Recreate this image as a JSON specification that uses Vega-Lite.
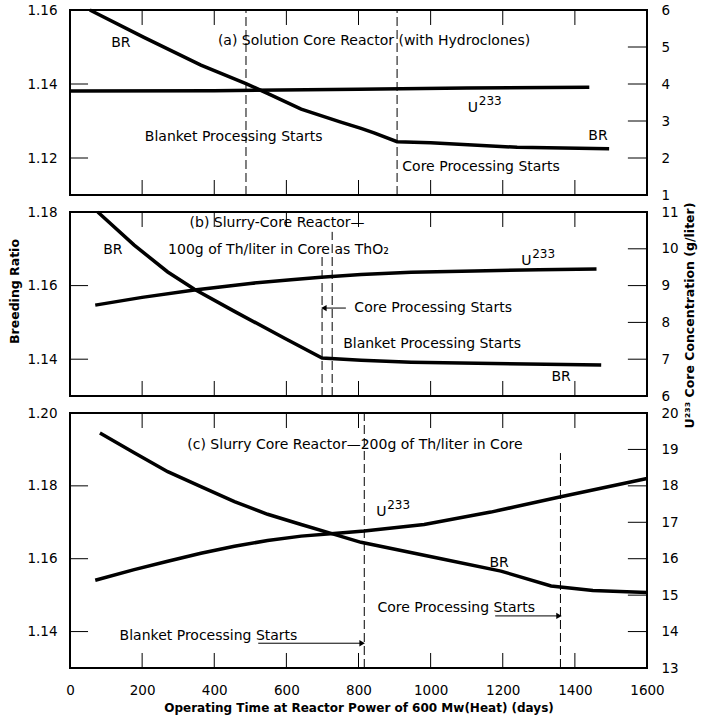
{
  "$schema": "https://vega.github.io/schema/vega-lite/v6.json",
  "background": "white",
  "padding": {"left": 7, "top": 2, "right": 5, "bottom": 5},
  "bounds": "flush",
  "spacing": 17,
  "datasets": {
    "curves": [
      {"panel": "a", "series": "BR", "day": 55, "value": 1.16},
      {"panel": "a", "series": "BR", "day": 205, "value": 1.1526},
      {"panel": "a", "series": "BR", "day": 363, "value": 1.1451},
      {"panel": "a", "series": "BR", "day": 488, "value": 1.1401},
      {"panel": "a", "series": "BR", "day": 549, "value": 1.1374},
      {"panel": "a", "series": "BR", "day": 641, "value": 1.1332},
      {"panel": "a", "series": "BR", "day": 751, "value": 1.1297},
      {"panel": "a", "series": "BR", "day": 807, "value": 1.128},
      {"panel": "a", "series": "BR", "day": 843, "value": 1.1268},
      {"panel": "a", "series": "BR", "day": 907, "value": 1.1244},
      {"panel": "a", "series": "BR", "day": 1000, "value": 1.1241},
      {"panel": "a", "series": "BR", "day": 1240, "value": 1.1229},
      {"panel": "a", "series": "BR", "day": 1495, "value": 1.1225},
      {"panel": "a", "series": "U233", "day": 0, "value": 3.81},
      {"panel": "a", "series": "U233", "day": 400, "value": 3.82},
      {"panel": "a", "series": "U233", "day": 800, "value": 3.86},
      {"panel": "a", "series": "U233", "day": 1100, "value": 3.89},
      {"panel": "a", "series": "U233", "day": 1440, "value": 3.91},
      {"panel": "b", "series": "BR", "day": 77, "value": 1.18},
      {"panel": "b", "series": "BR", "day": 178, "value": 1.171},
      {"panel": "b", "series": "BR", "day": 271, "value": 1.1637},
      {"panel": "b", "series": "BR", "day": 345, "value": 1.159},
      {"panel": "b", "series": "BR", "day": 456, "value": 1.153},
      {"panel": "b", "series": "BR", "day": 595, "value": 1.1457},
      {"panel": "b", "series": "BR", "day": 699, "value": 1.1403},
      {"panel": "b", "series": "BR", "day": 807, "value": 1.1397},
      {"panel": "b", "series": "BR", "day": 946, "value": 1.1392},
      {"panel": "b", "series": "BR", "day": 1473, "value": 1.1384},
      {"panel": "b", "series": "U233", "day": 70, "value": 8.47},
      {"panel": "b", "series": "U233", "day": 200, "value": 8.68},
      {"panel": "b", "series": "U233", "day": 345, "value": 8.88},
      {"panel": "b", "series": "U233", "day": 500, "value": 9.06},
      {"panel": "b", "series": "U233", "day": 613, "value": 9.16},
      {"panel": "b", "series": "U233", "day": 696, "value": 9.23},
      {"panel": "b", "series": "U233", "day": 807, "value": 9.3},
      {"panel": "b", "series": "U233", "day": 946, "value": 9.36},
      {"panel": "b", "series": "U233", "day": 1121, "value": 9.4},
      {"panel": "b", "series": "U233", "day": 1300, "value": 9.43},
      {"panel": "b", "series": "U233", "day": 1460, "value": 9.45},
      {"panel": "c", "series": "BR", "day": 83, "value": 1.1945},
      {"panel": "c", "series": "BR", "day": 178, "value": 1.1891},
      {"panel": "c", "series": "BR", "day": 271, "value": 1.1839},
      {"panel": "c", "series": "BR", "day": 363, "value": 1.1798},
      {"panel": "c", "series": "BR", "day": 456, "value": 1.1757},
      {"panel": "c", "series": "BR", "day": 548, "value": 1.1722},
      {"panel": "c", "series": "BR", "day": 641, "value": 1.1694},
      {"panel": "c", "series": "BR", "day": 733, "value": 1.1667},
      {"panel": "c", "series": "BR", "day": 807, "value": 1.1645},
      {"panel": "c", "series": "BR", "day": 1029, "value": 1.16},
      {"panel": "c", "series": "BR", "day": 1195, "value": 1.1566},
      {"panel": "c", "series": "BR", "day": 1334, "value": 1.1525},
      {"panel": "c", "series": "BR", "day": 1450, "value": 1.1513},
      {"panel": "c", "series": "BR", "day": 1600, "value": 1.1507},
      {"panel": "c", "series": "U233", "day": 70, "value": 15.41},
      {"panel": "c", "series": "U233", "day": 178, "value": 15.7},
      {"panel": "c", "series": "U233", "day": 271, "value": 15.93},
      {"panel": "c", "series": "U233", "day": 363, "value": 16.15},
      {"panel": "c", "series": "U233", "day": 456, "value": 16.34},
      {"panel": "c", "series": "U233", "day": 548, "value": 16.5},
      {"panel": "c", "series": "U233", "day": 641, "value": 16.62},
      {"panel": "c", "series": "U233", "day": 740, "value": 16.7},
      {"panel": "c", "series": "U233", "day": 816, "value": 16.76},
      {"panel": "c", "series": "U233", "day": 982, "value": 16.94},
      {"panel": "c", "series": "U233", "day": 1167, "value": 17.28},
      {"panel": "c", "series": "U233", "day": 1361, "value": 17.7},
      {"panel": "c", "series": "U233", "day": 1600, "value": 18.2}
    ],
    "markers": [
      {"panel": "a", "day": 488, "value": 1.11, "value2": 1.16},
      {"panel": "a", "day": 907, "value": 1.11, "value2": 1.16},
      {"panel": "b", "day": 699, "value": 1.13, "value2": 1.1678},
      {"panel": "b", "day": 727, "value": 1.13, "value2": 1.1746},
      {"panel": "c", "day": 816, "value": 1.13, "value2": 1.2},
      {"panel": "c", "day": 1360, "value": 1.13, "value2": 1.189}
    ],
    "notes": [
      {"panel": "a", "day": 141, "value": 1.1512, "label": "BR"},
      {"panel": "a", "day": 843, "value": 1.1517, "label": "(a) Solution Core Reactor (with Hydroclones)"},
      {"panel": "a", "day": 454, "value": 1.1258, "label": "Blanket Processing Starts"},
      {"panel": "a", "day": 1140, "value": 1.1175, "label": "Core Processing Starts"},
      {"panel": "a", "day": 1464, "value": 1.126, "label": "BR"},
      {"panel": "b", "day": 574, "value": 1.177, "label": "(b) Slurry-Core Reactor—"},
      {"panel": "b", "day": 578, "value": 1.1697, "label": "100g of Th/liter in Core as ThO₂"},
      {"panel": "b", "day": 119, "value": 1.1697, "label": "BR"},
      {"panel": "b", "day": 1007, "value": 1.1539, "label": "Core Processing Starts"},
      {"panel": "b", "day": 1004, "value": 1.1441, "label": "Blanket Processing Starts"},
      {"panel": "b", "day": 1362, "value": 1.1351, "label": "BR"},
      {"panel": "c", "day": 790, "value": 1.1913, "label": "(c) Slurry Core Reactor—200g of Th/liter in Core"},
      {"panel": "c", "day": 1190, "value": 1.1588, "label": "BR"},
      {"panel": "c", "day": 1071, "value": 1.1466, "label": "Core Processing Starts"},
      {"panel": "c", "day": 384, "value": 1.1388, "label": "Blanket Processing Starts"}
    ],
    "isotope": [
      {"panel": "a", "day": 1103, "value": 1.1324},
      {"panel": "b", "day": 1251, "value": 1.1656},
      {"panel": "c", "day": 849, "value": 1.1716}
    ],
    "arrows": [
      {"panel": "b", "day": 765, "tip": 704, "value": 1.1539, "dir": "left"},
      {"panel": "c", "day": 522, "tip": 810, "value": 1.1368, "dir": "right"},
      {"panel": "c", "day": 1179, "tip": 1356, "value": 1.1443, "dir": "right"}
    ],
    "xticks": [
      {"day": 200}, {"day": 400}, {"day": 600}, {"day": 800}, {"day": 1000}, {"day": 1200}, {"day": 1400}
    ],
    "yticks": [
      {"panel": "a", "side": "left", "value": 1.12},
      {"panel": "a", "side": "left", "value": 1.14},
      {"panel": "a", "side": "right", "value": 2},
      {"panel": "a", "side": "right", "value": 3},
      {"panel": "a", "side": "right", "value": 4},
      {"panel": "a", "side": "right", "value": 5},
      {"panel": "b", "side": "left", "value": 1.14},
      {"panel": "b", "side": "left", "value": 1.16},
      {"panel": "b", "side": "right", "value": 7},
      {"panel": "b", "side": "right", "value": 8},
      {"panel": "b", "side": "right", "value": 9},
      {"panel": "b", "side": "right", "value": 10},
      {"panel": "c", "side": "left", "value": 1.14},
      {"panel": "c", "side": "left", "value": 1.16},
      {"panel": "c", "side": "left", "value": 1.18},
      {"panel": "c", "side": "right", "value": 14},
      {"panel": "c", "side": "right", "value": 15},
      {"panel": "c", "side": "right", "value": 16},
      {"panel": "c", "side": "right", "value": 17},
      {"panel": "c", "side": "right", "value": 18},
      {"panel": "c", "side": "right", "value": 19}
    ]
  },
  "vconcat": [
    {
      "width": 577,
      "height": 185,
      "resolve": {"scale": {"y": "independent"}},
      "layer": [
        {
          "data": {"name": "curves"},
          "transform": [{"filter": "datum.panel === 'a' && datum.series === 'BR'"}],
          "mark": {"type": "line", "color": "black", "strokeWidth": 3.5},
          "encoding": {
            "x": {"field": "day", "type": "quantitative", "scale": {"domain": [0, 1600], "nice": false, "zero": false},
                  "axis": {"orient": "bottom", "values": [200, 400, 600, 800, 1000, 1200, 1400], "labels": false, "title": null}},
            "y": {"field": "value", "type": "quantitative", "scale": {"domain": [1.11, 1.16], "nice": false, "zero": false},
                  "axis": {"orient": "left", "values": [1.12, 1.14, 1.16], "format": ".2f", "labelPadding": 13, "title": null}}
          }
        },
        {
          "data": {"name": "curves"},
          "transform": [{"filter": "datum.panel === 'a' && datum.series === 'U233'"}],
          "mark": {"type": "line", "color": "black", "strokeWidth": 3.5},
          "encoding": {
            "x": {"field": "day", "type": "quantitative", "scale": {"domain": [0, 1600], "nice": false, "zero": false}},
            "y": {"field": "value", "type": "quantitative", "scale": {"domain": [1, 6], "nice": false, "zero": false},
                  "axis": {"orient": "right", "values": [1, 2, 3, 4, 5, 6], "format": "d", "labelPadding": 14, "title": null}}
          }
        },
        {
          "data": {"name": "xticks"},
          "mark": {"type": "rule", "color": "black", "strokeWidth": 1},
          "encoding": {
            "x": {"field": "day", "type": "quantitative", "scale": {"domain": [0, 1600], "nice": false, "zero": false}},
            "y": {"datum": 1.11, "type": "quantitative", "scale": {"domain": [1.11, 1.16], "nice": false, "zero": false}, "axis": null},
            "y2": {"datum": 1.11405}
          }
        },
        {
          "data": {"name": "xticks"},
          "mark": {"type": "rule", "color": "black", "strokeWidth": 1},
          "encoding": {
            "x": {"field": "day", "type": "quantitative", "scale": {"domain": [0, 1600], "nice": false, "zero": false}},
            "y": {"datum": 1.16, "type": "quantitative", "scale": {"domain": [1.11, 1.16], "nice": false, "zero": false}, "axis": null},
            "y2": {"datum": 1.15595}
          }
        },
        {
          "data": {"name": "yticks"},
          "transform": [{"filter": "datum.panel === 'a' && datum.side === 'left'"}],
          "mark": {"type": "rule", "color": "black", "strokeWidth": 1},
          "encoding": {
            "x": {"datum": 0, "type": "quantitative", "scale": {"domain": [0, 1600], "nice": false, "zero": false}},
            "x2": {"datum": 50},
            "y": {"field": "value", "type": "quantitative", "scale": {"domain": [1.11, 1.16], "nice": false, "zero": false}, "axis": null}
          }
        },
        {
          "data": {"name": "yticks"},
          "transform": [{"filter": "datum.panel === 'a' && datum.side === 'right'"}],
          "mark": {"type": "rule", "color": "black", "strokeWidth": 1},
          "encoding": {
            "x": {"datum": 1547, "type": "quantitative", "scale": {"domain": [0, 1600], "nice": false, "zero": false}},
            "x2": {"datum": 1600},
            "y": {"field": "value", "type": "quantitative", "scale": {"domain": [1, 6], "nice": false, "zero": false}, "axis": null}
          }
        },
        {
          "data": {"name": "markers"},
          "transform": [{"filter": "datum.panel === 'a'"}],
          "mark": {"type": "rule", "color": "black", "strokeWidth": 1, "strokeDash": [9, 4]},
          "encoding": {
            "x": {"field": "day", "type": "quantitative", "scale": {"domain": [0, 1600], "nice": false, "zero": false}},
            "y": {"field": "value", "type": "quantitative", "scale": {"domain": [1.11, 1.16], "nice": false, "zero": false}, "axis": null},
            "y2": {"field": "value2"}
          }
        },
        {
          "data": {"name": "notes"},
          "transform": [{"filter": "datum.panel === 'a'"}],
          "mark": {"type": "text", "align": "center", "baseline": "middle"},
          "encoding": {
            "x": {"field": "day", "type": "quantitative", "scale": {"domain": [0, 1600], "nice": false, "zero": false}},
            "y": {"field": "value", "type": "quantitative", "scale": {"domain": [1.11, 1.16], "nice": false, "zero": false}, "axis": null},
            "text": {"field": "label"}
          }
        },
        {
          "data": {"name": "isotope"},
          "transform": [{"filter": "datum.panel === 'a'"}],
          "mark": {"type": "text", "text": "U", "align": "left", "baseline": "alphabetic"},
          "encoding": {
            "x": {"field": "day", "type": "quantitative", "scale": {"domain": [0, 1600], "nice": false, "zero": false}},
            "y": {"field": "value", "type": "quantitative", "scale": {"domain": [1.11, 1.16], "nice": false, "zero": false}, "axis": null}
          }
        },
        {
          "data": {"name": "isotope"},
          "transform": [{"filter": "datum.panel === 'a'"}],
          "mark": {"type": "text", "text": "233", "align": "left", "baseline": "alphabetic", "fontSize": 12, "dx": 11, "dy": -7},
          "encoding": {
            "x": {"field": "day", "type": "quantitative", "scale": {"domain": [0, 1600], "nice": false, "zero": false}},
            "y": {"field": "value", "type": "quantitative", "scale": {"domain": [1.11, 1.16], "nice": false, "zero": false}, "axis": null}
          }
        }
      ]
    },
    {
      "width": 577,
      "height": 184,
      "resolve": {"scale": {"y": "independent"}},
      "layer": [
        {
          "data": {"name": "curves"},
          "transform": [{"filter": "datum.panel === 'b' && datum.series === 'BR'"}],
          "mark": {"type": "line", "color": "black", "strokeWidth": 3.5},
          "encoding": {
            "x": {"field": "day", "type": "quantitative", "scale": {"domain": [0, 1600], "nice": false, "zero": false},
                  "axis": {"orient": "bottom", "values": [200, 400, 600, 800, 1000, 1200, 1400], "labels": false, "title": null}},
            "y": {"field": "value", "type": "quantitative", "scale": {"domain": [1.13, 1.18], "nice": false, "zero": false},
                  "axis": {"orient": "left", "values": [1.14, 1.16, 1.18], "format": ".2f", "labelPadding": 13,
                           "title": "Breeding Ratio", "titleY": 79, "titlePadding": 5}}
          }
        },
        {
          "data": {"name": "curves"},
          "transform": [{"filter": "datum.panel === 'b' && datum.series === 'U233'"}],
          "mark": {"type": "line", "color": "black", "strokeWidth": 3.5},
          "encoding": {
            "x": {"field": "day", "type": "quantitative", "scale": {"domain": [0, 1600], "nice": false, "zero": false}},
            "y": {"field": "value", "type": "quantitative", "scale": {"domain": [6, 11], "nice": false, "zero": false},
                  "axis": {"orient": "right", "values": [6, 7, 8, 9, 10, 11], "format": "d", "labelPadding": 14,
                           "title": "U²³³ Core Concentration (g/liter)", "titleAngle": 270, "titleBaseline": "top", "titleY": 103, "titlePadding": 5}}
          }
        },
        {
          "data": {"name": "xticks"},
          "mark": {"type": "rule", "color": "black", "strokeWidth": 1},
          "encoding": {
            "x": {"field": "day", "type": "quantitative", "scale": {"domain": [0, 1600], "nice": false, "zero": false}},
            "y": {"datum": 1.13, "type": "quantitative", "scale": {"domain": [1.13, 1.18], "nice": false, "zero": false}, "axis": null},
            "y2": {"datum": 1.13408}
          }
        },
        {
          "data": {"name": "xticks"},
          "mark": {"type": "rule", "color": "black", "strokeWidth": 1},
          "encoding": {
            "x": {"field": "day", "type": "quantitative", "scale": {"domain": [0, 1600], "nice": false, "zero": false}},
            "y": {"datum": 1.18, "type": "quantitative", "scale": {"domain": [1.13, 1.18], "nice": false, "zero": false}, "axis": null},
            "y2": {"datum": 1.17592}
          }
        },
        {
          "data": {"name": "yticks"},
          "transform": [{"filter": "datum.panel === 'b' && datum.side === 'left'"}],
          "mark": {"type": "rule", "color": "black", "strokeWidth": 1},
          "encoding": {
            "x": {"datum": 0, "type": "quantitative", "scale": {"domain": [0, 1600], "nice": false, "zero": false}},
            "x2": {"datum": 50},
            "y": {"field": "value", "type": "quantitative", "scale": {"domain": [1.13, 1.18], "nice": false, "zero": false}, "axis": null}
          }
        },
        {
          "data": {"name": "yticks"},
          "transform": [{"filter": "datum.panel === 'b' && datum.side === 'right'"}],
          "mark": {"type": "rule", "color": "black", "strokeWidth": 1},
          "encoding": {
            "x": {"datum": 1547, "type": "quantitative", "scale": {"domain": [0, 1600], "nice": false, "zero": false}},
            "x2": {"datum": 1600},
            "y": {"field": "value", "type": "quantitative", "scale": {"domain": [6, 11], "nice": false, "zero": false}, "axis": null}
          }
        },
        {
          "data": {"name": "markers"},
          "transform": [{"filter": "datum.panel === 'b'"}],
          "mark": {"type": "rule", "color": "black", "strokeWidth": 1, "strokeDash": [9, 4]},
          "encoding": {
            "x": {"field": "day", "type": "quantitative", "scale": {"domain": [0, 1600], "nice": false, "zero": false}},
            "y": {"field": "value", "type": "quantitative", "scale": {"domain": [1.13, 1.18], "nice": false, "zero": false}, "axis": null},
            "y2": {"field": "value2"}
          }
        },
        {
          "data": {"name": "notes"},
          "transform": [{"filter": "datum.panel === 'b'"}],
          "mark": {"type": "text", "align": "center", "baseline": "middle"},
          "encoding": {
            "x": {"field": "day", "type": "quantitative", "scale": {"domain": [0, 1600], "nice": false, "zero": false}},
            "y": {"field": "value", "type": "quantitative", "scale": {"domain": [1.13, 1.18], "nice": false, "zero": false}, "axis": null},
            "text": {"field": "label"}
          }
        },
        {
          "data": {"name": "isotope"},
          "transform": [{"filter": "datum.panel === 'b'"}],
          "mark": {"type": "text", "text": "U", "align": "left", "baseline": "alphabetic"},
          "encoding": {
            "x": {"field": "day", "type": "quantitative", "scale": {"domain": [0, 1600], "nice": false, "zero": false}},
            "y": {"field": "value", "type": "quantitative", "scale": {"domain": [1.13, 1.18], "nice": false, "zero": false}, "axis": null}
          }
        },
        {
          "data": {"name": "isotope"},
          "transform": [{"filter": "datum.panel === 'b'"}],
          "mark": {"type": "text", "text": "233", "align": "left", "baseline": "alphabetic", "fontSize": 12, "dx": 11, "dy": -7},
          "encoding": {
            "x": {"field": "day", "type": "quantitative", "scale": {"domain": [0, 1600], "nice": false, "zero": false}},
            "y": {"field": "value", "type": "quantitative", "scale": {"domain": [1.13, 1.18], "nice": false, "zero": false}, "axis": null}
          }
        },
        {
          "data": {"name": "arrows"},
          "transform": [{"filter": "datum.panel === 'b'"}],
          "mark": {"type": "rule", "color": "black", "strokeWidth": 1},
          "encoding": {
            "x": {"field": "day", "type": "quantitative", "scale": {"domain": [0, 1600], "nice": false, "zero": false}},
            "x2": {"field": "tip"},
            "y": {"field": "value", "type": "quantitative", "scale": {"domain": [1.13, 1.18], "nice": false, "zero": false}, "axis": null}
          }
        },
        {
          "data": {"name": "arrows"},
          "transform": [{"filter": "datum.panel === 'b'"}],
          "mark": {"type": "point", "filled": true, "color": "black", "size": 40, "opacity": 1},
          "encoding": {
            "x": {"field": "tip", "type": "quantitative", "scale": {"domain": [0, 1600], "nice": false, "zero": false}},
            "y": {"field": "value", "type": "quantitative", "scale": {"domain": [1.13, 1.18], "nice": false, "zero": false}, "axis": null},
            "shape": {"field": "dir", "type": "nominal", "scale": {"domain": ["left", "right"], "range": ["triangle-left", "triangle-right"]}, "legend": null}
          }
        }
      ]
    },
    {
      "width": 577,
      "height": 255,
      "resolve": {"scale": {"y": "independent"}},
      "layer": [
        {
          "data": {"name": "curves"},
          "transform": [{"filter": "datum.panel === 'c' && datum.series === 'BR'"}],
          "mark": {"type": "line", "color": "black", "strokeWidth": 3.5},
          "encoding": {
            "x": {"field": "day", "type": "quantitative", "scale": {"domain": [0, 1600], "nice": false, "zero": false},
                  "axis": {"orient": "bottom", "values": [0, 200, 400, 600, 800, 1000, 1200, 1400, 1600], "format": "d", "labelPadding": 15,
                           "title": "Operating Time at Reactor Power of 600 Mw(Heat) (days)", "titleFontSize": 12, "titlePadding": 6}},
            "y": {"field": "value", "type": "quantitative", "scale": {"domain": [1.13, 1.2], "nice": false, "zero": false},
                  "axis": {"orient": "left", "values": [1.14, 1.16, 1.18, 1.2], "format": ".2f", "labelPadding": 13, "title": null}}
          }
        },
        {
          "data": {"name": "curves"},
          "transform": [{"filter": "datum.panel === 'c' && datum.series === 'U233'"}],
          "mark": {"type": "line", "color": "black", "strokeWidth": 3.5},
          "encoding": {
            "x": {"field": "day", "type": "quantitative", "scale": {"domain": [0, 1600], "nice": false, "zero": false}},
            "y": {"field": "value", "type": "quantitative", "scale": {"domain": [13, 20], "nice": false, "zero": false},
                  "axis": {"orient": "right", "values": [13, 14, 15, 16, 17, 18, 19, 20], "format": "d", "labelPadding": 14, "title": null}}
          }
        },
        {
          "data": {"name": "xticks"},
          "mark": {"type": "rule", "color": "black", "strokeWidth": 1},
          "encoding": {
            "x": {"field": "day", "type": "quantitative", "scale": {"domain": [0, 1600], "nice": false, "zero": false}},
            "y": {"datum": 1.13, "type": "quantitative", "scale": {"domain": [1.13, 1.2], "nice": false, "zero": false}, "axis": null},
            "y2": {"datum": 1.13412}
          }
        },
        {
          "data": {"name": "xticks"},
          "mark": {"type": "rule", "color": "black", "strokeWidth": 1},
          "encoding": {
            "x": {"field": "day", "type": "quantitative", "scale": {"domain": [0, 1600], "nice": false, "zero": false}},
            "y": {"datum": 1.2, "type": "quantitative", "scale": {"domain": [1.13, 1.2], "nice": false, "zero": false}, "axis": null},
            "y2": {"datum": 1.19588}
          }
        },
        {
          "data": {"name": "yticks"},
          "transform": [{"filter": "datum.panel === 'c' && datum.side === 'left'"}],
          "mark": {"type": "rule", "color": "black", "strokeWidth": 1},
          "encoding": {
            "x": {"datum": 0, "type": "quantitative", "scale": {"domain": [0, 1600], "nice": false, "zero": false}},
            "x2": {"datum": 50},
            "y": {"field": "value", "type": "quantitative", "scale": {"domain": [1.13, 1.2], "nice": false, "zero": false}, "axis": null}
          }
        },
        {
          "data": {"name": "yticks"},
          "transform": [{"filter": "datum.panel === 'c' && datum.side === 'right'"}],
          "mark": {"type": "rule", "color": "black", "strokeWidth": 1},
          "encoding": {
            "x": {"datum": 1547, "type": "quantitative", "scale": {"domain": [0, 1600], "nice": false, "zero": false}},
            "x2": {"datum": 1600},
            "y": {"field": "value", "type": "quantitative", "scale": {"domain": [13, 20], "nice": false, "zero": false}, "axis": null}
          }
        },
        {
          "data": {"name": "markers"},
          "transform": [{"filter": "datum.panel === 'c'"}],
          "mark": {"type": "rule", "color": "black", "strokeWidth": 1, "strokeDash": [9, 4]},
          "encoding": {
            "x": {"field": "day", "type": "quantitative", "scale": {"domain": [0, 1600], "nice": false, "zero": false}},
            "y": {"field": "value", "type": "quantitative", "scale": {"domain": [1.13, 1.2], "nice": false, "zero": false}, "axis": null},
            "y2": {"field": "value2"}
          }
        },
        {
          "data": {"name": "notes"},
          "transform": [{"filter": "datum.panel === 'c'"}],
          "mark": {"type": "text", "align": "center", "baseline": "middle"},
          "encoding": {
            "x": {"field": "day", "type": "quantitative", "scale": {"domain": [0, 1600], "nice": false, "zero": false}},
            "y": {"field": "value", "type": "quantitative", "scale": {"domain": [1.13, 1.2], "nice": false, "zero": false}, "axis": null},
            "text": {"field": "label"}
          }
        },
        {
          "data": {"name": "isotope"},
          "transform": [{"filter": "datum.panel === 'c'"}],
          "mark": {"type": "text", "text": "U", "align": "left", "baseline": "alphabetic"},
          "encoding": {
            "x": {"field": "day", "type": "quantitative", "scale": {"domain": [0, 1600], "nice": false, "zero": false}},
            "y": {"field": "value", "type": "quantitative", "scale": {"domain": [1.13, 1.2], "nice": false, "zero": false}, "axis": null}
          }
        },
        {
          "data": {"name": "isotope"},
          "transform": [{"filter": "datum.panel === 'c'"}],
          "mark": {"type": "text", "text": "233", "align": "left", "baseline": "alphabetic", "fontSize": 12, "dx": 11, "dy": -7},
          "encoding": {
            "x": {"field": "day", "type": "quantitative", "scale": {"domain": [0, 1600], "nice": false, "zero": false}},
            "y": {"field": "value", "type": "quantitative", "scale": {"domain": [1.13, 1.2], "nice": false, "zero": false}, "axis": null}
          }
        },
        {
          "data": {"name": "arrows"},
          "transform": [{"filter": "datum.panel === 'c'"}],
          "mark": {"type": "rule", "color": "black", "strokeWidth": 1},
          "encoding": {
            "x": {"field": "day", "type": "quantitative", "scale": {"domain": [0, 1600], "nice": false, "zero": false}},
            "x2": {"field": "tip"},
            "y": {"field": "value", "type": "quantitative", "scale": {"domain": [1.13, 1.2], "nice": false, "zero": false}, "axis": null}
          }
        },
        {
          "data": {"name": "arrows"},
          "transform": [{"filter": "datum.panel === 'c'"}],
          "mark": {"type": "point", "filled": true, "color": "black", "size": 40, "opacity": 1},
          "encoding": {
            "x": {"field": "tip", "type": "quantitative", "scale": {"domain": [0, 1600], "nice": false, "zero": false}},
            "y": {"field": "value", "type": "quantitative", "scale": {"domain": [1.13, 1.2], "nice": false, "zero": false}, "axis": null},
            "shape": {"field": "dir", "type": "nominal", "scale": {"domain": ["left", "right"], "range": ["triangle-left", "triangle-right"]}, "legend": null}
          }
        }
      ]
    }
  ],
  "config": {
    "font": "DejaVu Sans",
    "view": {"stroke": "black", "strokeWidth": 2},
    "axis": {
      "domain": false, "ticks": false, "grid": false,
      "labelColor": "black", "labelFont": "DejaVu Sans", "labelFontSize": 13.5, "labelFlush": false,
      "titleColor": "black", "titleFont": "DejaVu Sans", "titleFontSize": 12.5, "titleFontWeight": "bold"
    },
    "text": {"font": "DejaVu Sans", "fontSize": 14, "color": "black"}
  }
}
